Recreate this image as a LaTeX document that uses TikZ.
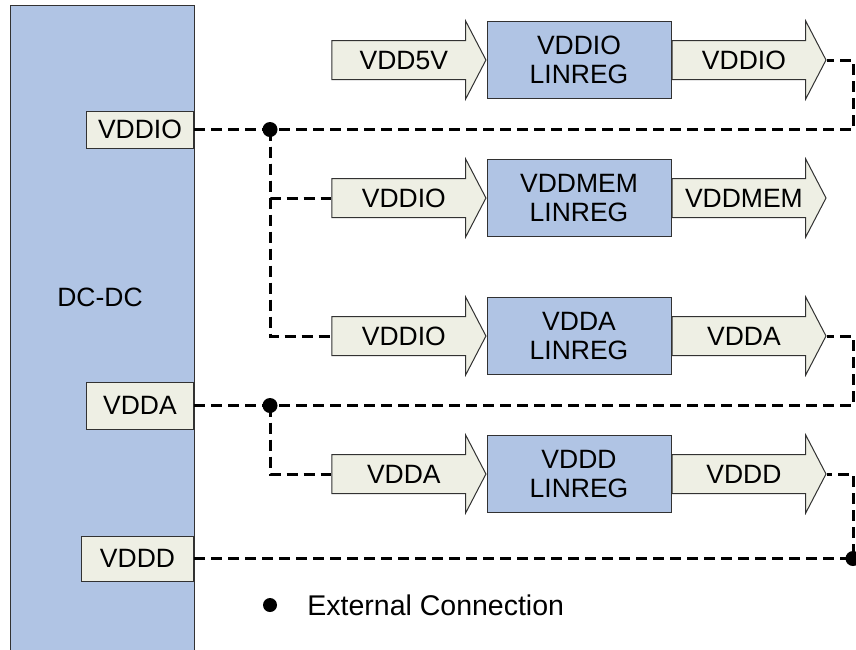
\documentclass[tikz,border=0pt]{standalone}
\usepackage{fontspec}
\setmainfont{Liberation Sans}
\usetikzlibrary{shapes.arrows}
\definecolor{regblue}{RGB}{176,196,228}
\definecolor{railbeige}{RGB}{238,239,228}
\definecolor{edgegray}{RGB}{50,50,50}

\begin{document}
\begin{tikzpicture}[x=0.5pt, y=-0.5pt,
    every node/.style={font=\fontsize{13.25}{14.5}\selectfont},
    regbox/.style={draw=edgegray, fill=regblue, line width=0.5pt, minimum width=92pt, minimum height=38.5pt, inner sep=0pt, align=center},
    pinbox/.style={draw=edgegray, fill=railbeige, line width=0.5pt, inner sep=0pt, anchor=east},
    rail/.style={single arrow, draw=edgegray, fill=railbeige, line width=0.5pt, minimum height=77pt, text height=9.5pt, text depth=0pt, inner xsep=2pt, inner ysep=4.75pt, single arrow head extend=9.75pt, single arrow tip angle=125},
    wire/.style={line width=1.5pt, dash pattern=on 5.5pt off 3pt},
    dot/.style={circle, fill, inner sep=0pt, minimum size=7.5pt}]
      \useasboundingbox (0,0) rectangle (856,649);
      \node[draw=edgegray, fill=regblue, line width=0.5pt, minimum width=92pt, minimum height=325pt, anchor=north west, inner sep=0pt] (dcdc) at (10,5) {};
      \node (dclabel) at (100,297) {DC-DC};
      \node[pinbox, minimum width=53.5pt, minimum height=18.5pt] (pio) at (194,129.5) {VDDIO};
      \node[pinbox, minimum width=53.5pt, minimum height=23.5pt] (pa) at (194,405.5) {VDDA};
      \node[pinbox, minimum width=56pt, minimum height=22.5pt] (pd) at (194,558.5) {VDDD};
      \node[regbox] (reg1) at (579,60) {VDDIO\\LINREG};
      \node[rail, anchor=tip] (in1) at (reg1.west) {VDD5V};
      \node[rail, anchor=tail] (out1) at (reg1.east) {VDDIO};
      \node[regbox] (reg2) at (579,198) {VDDMEM\\LINREG};
      \node[rail, anchor=tip] (in2) at (reg2.west) {VDDIO};
      \node[rail, anchor=tail] (out2) at (reg2.east) {VDDMEM};
      \node[regbox] (reg3) at (579,336) {VDDA\\LINREG};
      \node[rail, anchor=tip] (in3) at (reg3.west) {VDDIO};
      \node[rail, anchor=tail] (out3) at (reg3.east) {VDDA};
      \node[regbox] (reg4) at (579,474) {VDDD\\LINREG};
      \node[rail, anchor=tip] (in4) at (reg4.west) {VDDA};
      \node[rail, anchor=tail] (out4) at (reg4.east) {VDDD};
      \node[dot] (j1) at (270,129.5) {};
      \node[dot] (j2) at (270,405.5) {};
      \node[dot] (r3) at (853,558.5) {};
      \coordinate (r1) at (853,129.5);
      \coordinate (r2) at (853,405.5);
      \draw[wire] (pio.east) -- (j1.center) -- (r1) |- (out1.tip);
      \draw[wire] (j1.center) |- (in2.tail);
      \draw[wire] (j1.center) |- (in3.tail);
      \draw[wire] (pa.east) -- (j2.center) -- (r2) |- (out3.tip);
      \draw[wire] (j2.center) |- (in4.tail);
      \draw[wire] (pd.east) -- (r3.center) |- (out4.tip);
      \node[dot, minimum size=7pt] (key) at (270,605) {};
      \node[anchor=west, inner sep=0pt, font=\fontsize{14.25}{16}\selectfont] (keytext) at (307,605) {External Connection};
    \end{tikzpicture}
\end{document}
